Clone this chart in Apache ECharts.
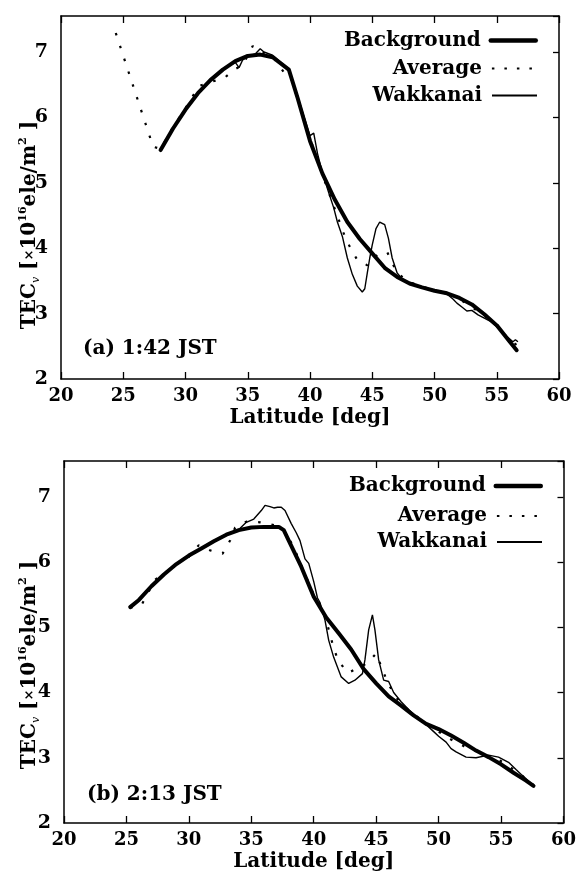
<!DOCTYPE html>
<html>
<head>
<meta charset="utf-8">
<script src="https://cdn.jsdelivr.net/npm/echarts@6/dist/echarts.min.js"></script>
<style>
html,body{margin:0;padding:0;background:#fff;}
#chart{width:579px;height:876px;}
</style>
</head>
<body>
<div id="chart"></div>
<script>
// ---------- Data ----------
// Panel (a) 1:42 JST
var bgLatA  = [28.0,29.0,30.0,31.0,32.0,33.0,34.0,35.0,36.0,37.0,38.3,39.0,40.0,41.0,42.0,43.0,44.0,45.0,46.0,47.0,48.0,49.0,50.0,51.0,52.0,53.0,54.0,55.0,56.0,56.6];
var bgTecA  = [5.50,5.83,6.12,6.37,6.57,6.73,6.86,6.94,6.96,6.92,6.73,6.30,5.64,5.14,4.74,4.40,4.14,3.92,3.70,3.56,3.46,3.40,3.35,3.31,3.24,3.14,2.99,2.82,2.58,2.44];
var wkLatA  = [28.0,29.0,30.0,30.5,31.0,32.0,33.0,34.0,34.3,34.6,35.0,35.6,36.0,36.3,37.0,37.6,38.3,38.8,39.5,40.0,40.3,40.6,41.0,41.5,41.9,42.2,42.6,43.0,43.4,43.8,44.2,44.4,44.6,44.8,45.0,45.3,45.6,46.0,46.3,46.6,47.0,47.4,48.0,48.5,49.0,49.5,50.0,50.5,51.0,51.5,51.8,52.2,52.6,53.0,53.5,54.0,54.5,55.0,55.5,56.0,56.3,56.5,56.7];
var wkTecA  = [5.50,5.82,6.12,6.25,6.38,6.58,6.74,6.84,6.76,6.88,6.93,6.97,7.05,7.00,6.95,6.85,6.74,6.45,6.02,5.72,5.76,5.45,5.15,4.85,4.62,4.40,4.18,3.85,3.60,3.42,3.33,3.38,3.62,3.85,4.05,4.30,4.40,4.36,4.15,3.85,3.62,3.53,3.47,3.43,3.40,3.37,3.36,3.32,3.30,3.22,3.16,3.10,3.04,3.05,2.98,2.93,2.88,2.80,2.70,2.62,2.57,2.60,2.57];
var avLatA  = [24.4,27.4,28.0,29.0,30.0,30.5,31.1,32.0,33.1,34.0,34.6,35.4,36.0,37.0,37.9,38.5,39.0,40.0,41.0,41.8,42.7,43.2,43.8,44.6,45.4,46.2,47.0,48.0,49.0,50.0,51.0,52.0,53.0,54.0,55.0,56.0,56.6];
var avTecA  = [7.29,5.55,5.52,5.85,6.14,6.30,6.48,6.54,6.60,6.74,6.80,7.09,7.00,6.93,6.69,6.60,6.28,5.68,5.12,4.70,4.23,4.02,3.82,3.74,3.90,3.94,3.62,3.48,3.41,3.36,3.31,3.22,3.10,2.97,2.82,2.60,2.52];

// Panel (b) 2:13 JST
var bgLatB  = [25.3,26.0,27.0,28.0,29.0,30.0,31.0,32.0,33.0,34.0,35.0,36.0,37.2,37.6,38.0,39.0,40.0,41.0,42.0,43.0,44.0,45.0,46.0,47.0,48.0,49.0,50.0,51.0,52.0,53.0,54.0,55.0,56.0,57.0,57.6];
var bgTecB  = [5.31,5.42,5.63,5.81,5.97,6.10,6.21,6.32,6.42,6.49,6.53,6.54,6.54,6.49,6.33,5.93,5.47,5.15,4.91,4.66,4.36,4.14,3.94,3.80,3.65,3.52,3.44,3.34,3.23,3.11,3.01,2.90,2.77,2.65,2.57];
var wkLatB  = [25.3,26.0,27.0,28.0,29.0,30.0,31.0,32.0,33.0,34.0,34.6,35.2,35.8,36.1,36.5,36.8,37.1,37.4,37.7,38.2,38.6,38.9,39.3,39.6,40.0,40.3,40.5,40.9,41.2,41.6,42.2,42.8,43.3,43.9,44.1,44.4,44.7,44.9,45.2,45.6,46.0,46.4,47.0,47.6,48.2,48.7,49.5,50.0,50.6,51.0,51.4,52.2,53.0,54.0,54.8,55.6,56.2,56.7,57.4,57.6];
var wkTecB  = [5.31,5.42,5.64,5.81,5.97,6.10,6.22,6.33,6.43,6.50,6.61,6.66,6.79,6.87,6.85,6.83,6.84,6.84,6.79,6.59,6.45,6.33,6.05,5.98,5.70,5.45,5.38,5.11,4.80,4.54,4.24,4.14,4.19,4.29,4.50,4.96,5.19,4.96,4.50,4.19,4.17,4.00,3.86,3.74,3.62,3.56,3.42,3.33,3.24,3.14,3.09,3.01,3.00,3.04,3.01,2.93,2.82,2.73,2.61,2.58];
var avLatB  = [25.3,26.2,27.3,28.0,29.0,30.0,30.8,31.7,32.7,33.3,33.7,34.6,35.7,36.5,37.3,37.8,38.5,39.0,40.0,40.8,41.6,42.0,42.8,43.6,44.3,45.0,45.9,46.6,47.4,48.2,49.0,50.0,51.0,52.0,53.0,54.0,55.0,56.0,57.0,57.6];
var avTecB  = [5.30,5.34,5.73,5.82,5.97,6.08,6.26,6.18,6.13,6.33,6.53,6.62,6.61,6.58,6.55,6.45,6.18,5.95,5.50,5.25,4.68,4.47,4.30,4.39,4.45,4.60,4.16,3.92,3.76,3.64,3.52,3.40,3.28,3.18,3.10,3.02,2.95,2.82,2.68,2.58];

var xTicks = [20,25,30,35,40,45,50,55,60];
var yTicks = [2,3,4,5,6,7];
var seriesNames = ['Background','Average','Wakkanai'];
var panelLabels = ['(a) 1:42 JST','(b) 2:13 JST'];

// ---------- Build ----------
function pairs(xs, ys){ return xs.map(function(x,i){ return [x, ys[i]]; }); }
var FONT = '"DejaVu Serif", serif';
var grids = [
  {left:61, right:20, top:16, height:363},
  {left:64, right:15, top:461, height:362}
];

var xAxes = [], yAxes = [], series = [], legends = [];
grids.forEach(function(g, gi){
  var common = {min:xTicks[0], max:xTicks[xTicks.length-1], interval:5, gridIndex:gi,
    axisLine:{show:true, lineStyle:{color:'#000', width:1.5}},
    splitLine:{show:false}};
  xAxes.push(Object.assign({}, common, {type:'value', position:'bottom',
    axisTick:{show:true, inside:true, length:7, lineStyle:{color:'#000', width:1.3}},
    axisLabel:{show:true, color:'#000', fontFamily:FONT, fontWeight:'bold', fontSize:18, margin:8},
    name:'Latitude [deg]', nameLocation:'middle', nameGap:29,
    nameTextStyle:{color:'#000', fontFamily:FONT, fontWeight:'bold', fontSize:20}}));
  xAxes.push(Object.assign({}, common, {type:'value', position:'top',
    axisTick:{show:true, inside:true, length:7, lineStyle:{color:'#000', width:1.3}},
    axisLabel:{show:false}}));
  var ycommon = {type:'value', min:yTicks[0], max:7.55, interval:1, gridIndex:gi,
    axisLine:{show:true, lineStyle:{color:'#000', width:1.5}}, splitLine:{show:false}};
  yAxes.push(Object.assign({}, ycommon, {position:'left',
    axisTick:{show:false},
    axisLabel:{show:true, color:'#000', fontFamily:FONT, fontWeight:'bold', fontSize:19, margin:13,
      showMaxLabel:false}}));
  yAxes.push(Object.assign({}, ycommon, {position:'right',
    axisTick:{show:true, inside:true, length:6, lineStyle:{color:'#000', width:1.3}},
    axisLabel:{show:false}}));
});

var panelData = [
  {bg:pairs(bgLatA,bgTecA), av:pairs(avLatA,avTecA), wk:pairs(wkLatA,wkTecA)},
  {bg:pairs(bgLatB,bgTecB), av:pairs(avLatB,avTecB), wk:pairs(wkLatB,wkTecB)}
];
panelData.forEach(function(p, gi){
  series.push({name:seriesNames[0], type:'line', xAxisIndex:gi*2, yAxisIndex:gi*2, data:p.bg,
    symbol:'none', smooth:false, itemStyle:{color:'#000'},
    lineStyle:{color:'#000', width:4, join:'round', cap:'round'}, z:3});
  series.push({name:seriesNames[1], type:'line', xAxisIndex:gi*2, yAxisIndex:gi*2, data:p.av,
    symbol:'none', smooth:false, itemStyle:{color:'#000'},
    lineStyle:{color:'#000', width:2.2, type:[2.5,11]}, z:2});
  series.push({name:seriesNames[2], type:'line', xAxisIndex:gi*2, yAxisIndex:gi*2, data:p.wk,
    symbol:'none', smooth:false, itemStyle:{color:'#000'},
    lineStyle:{color:'#000', width:1.4}, z:4});
});

var legendLine = [
  {color:'#000', width:4.5, type:'solid'},
  {color:'#000', width:2.2, type:[2.5,10]},
  {color:'#000', width:2, type:'solid'}
];
var legendTops = [[30.5,58.5,85.5],[476,506,532]];
var legendRights = [41, 36];
legendTops.forEach(function(tops, gi){
  seriesNames.forEach(function(n, i){
    legends.push({data:[n], orient:'vertical', right:legendRights[gi], top:tops[i], padding:0,
      align:'right', itemWidth:45, itemHeight:14, selectedMode:false,
      itemStyle:{opacity:0}, lineStyle:legendLine[i],
      textStyle:{color:'#000', fontFamily:FONT, fontWeight:'bold', fontSize:20, padding:[0,5,0,0]}});
  });
});

var yName = '{n|TEC}{s|v}{n| [}{x|×}{n|10}{p|16}{n|ele/m}{p|2}{n| ]}';
var rich = {
  n:{fontFamily:FONT, fontWeight:'bold', fontSize:20, fill:'#000', color:'#000', lineHeight:24},
  s:{fontFamily:FONT, fontStyle:'italic', fontSize:11, fill:'#000', color:'#000', verticalAlign:'bottom', lineHeight:24},
  x:{fontFamily:FONT, fontWeight:'bold', fontSize:13, fill:'#000', color:'#000', lineHeight:24},
  p:{fontFamily:FONT, fontWeight:'bold', fontSize:11, fill:'#000', color:'#000', verticalAlign:'top', lineHeight:24}
};
var graphics = [];
[[30,225],[30,665]].forEach(function(pos){
  graphics.push({type:'text', x:pos[0], y:pos[1], rotation:Math.PI/2,
    style:{text:yName, rich:rich, align:'center', verticalAlign:'middle', fill:'#000'}});
});
[[83,349],[87,795]].forEach(function(pos, i){
  graphics.push({type:'text', x:pos[0], y:pos[1],
    style:{text:panelLabels[i], fill:'#000', font:'bold 20px ' + FONT, align:'left', verticalAlign:'middle'}});
});

var chart = echarts.init(document.getElementById('chart'), null, {renderer:'canvas'});
chart.setOption({
  animation:false,
  backgroundColor:'#fff',
  grid:grids,
  xAxis:xAxes,
  yAxis:yAxes,
  legend:legends,
  series:series,
  graphic:graphics
});
</script>
</body>
</html>
